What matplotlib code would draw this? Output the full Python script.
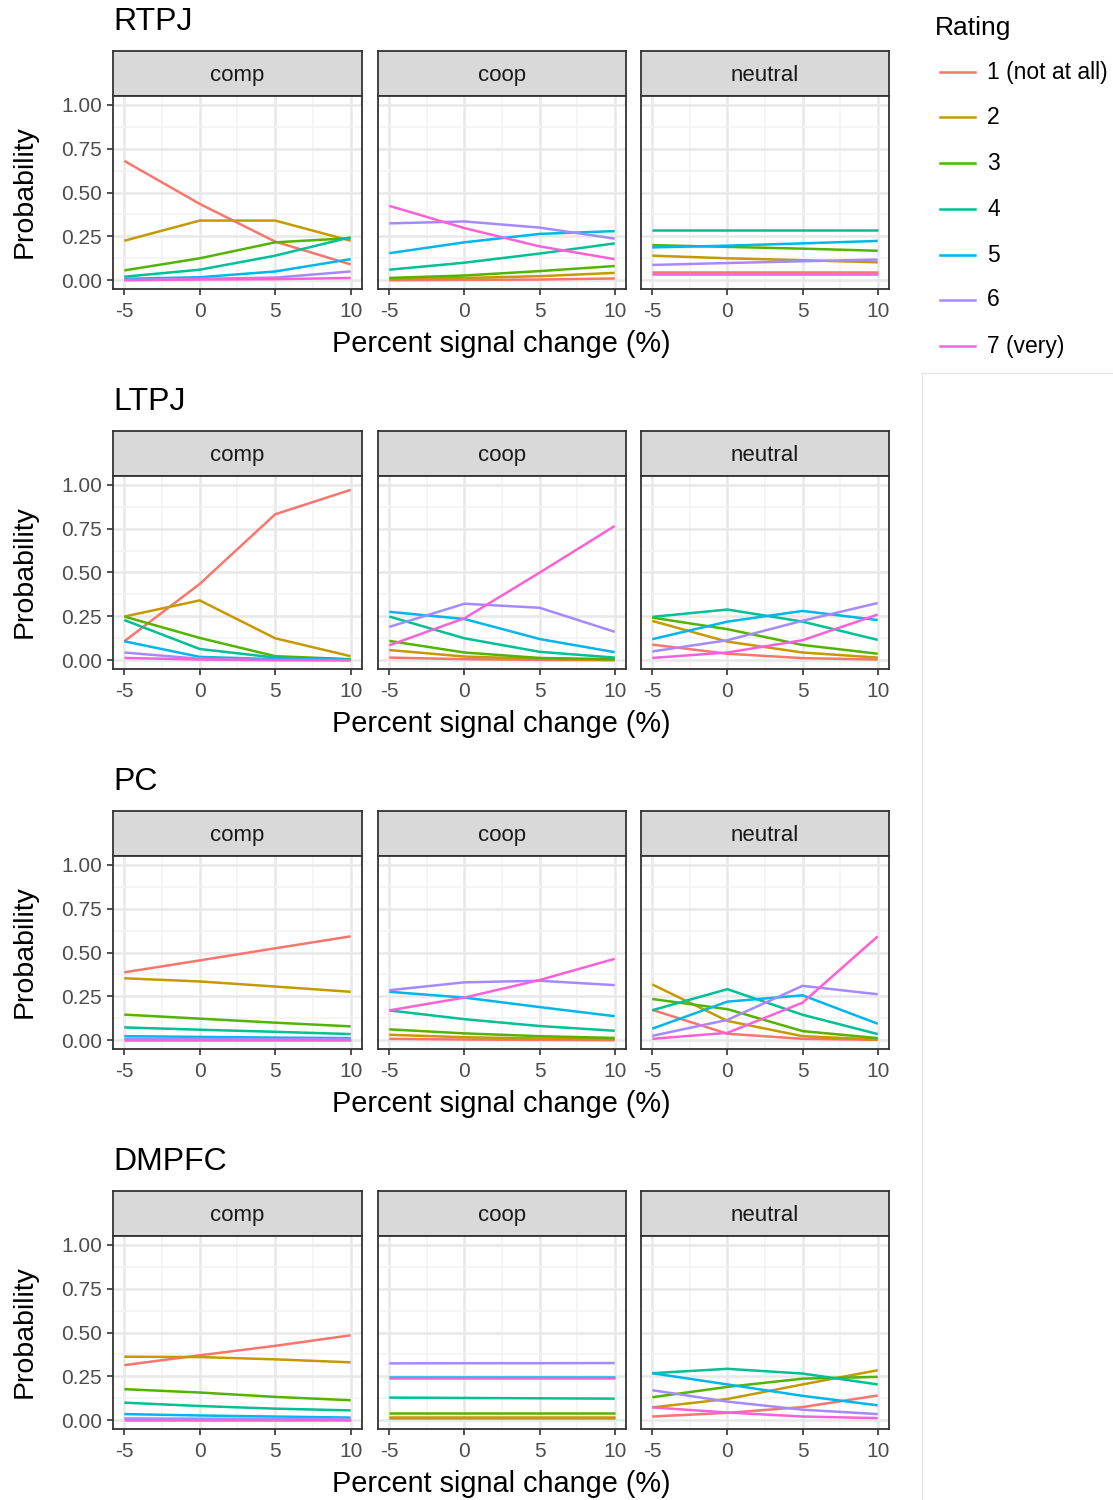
import numpy as np
import matplotlib
matplotlib.use("Agg")
import matplotlib.pyplot as plt
from matplotlib.lines import Line2D

W, H = 1113, 1500

x = [-5, 0, 5, 10]
regions = ["RTPJ", "LTPJ", "PC", "DMPFC"]
conditions = ["comp", "coop", "neutral"]
ratings = ["1 (not at all)", "2", "3", "4", "5", "6", "7 (very)"]
colors = ["#F8766D", "#C49A00", "#53B400", "#00C094", "#00B6EB", "#A58AFF", "#FB61D7"]

# probabilities per region / condition, one row per rating (1..7), columns at x
rtpj_comp = [[0.68, 0.435, 0.22, 0.09],
             [0.225, 0.34, 0.34, 0.225],
             [0.056, 0.125, 0.216, 0.24],
             [0.02, 0.06, 0.14, 0.245],
             [0.008, 0.017, 0.05, 0.12],
             [0.002, 0.008, 0.015, 0.05],
             [0.0, 0.004, 0.006, 0.013]]
rtpj_coop = [[0.0, 0.002, 0.004, 0.01],
             [0.006, 0.013, 0.023, 0.042],
             [0.013, 0.027, 0.052, 0.081],
             [0.06, 0.10, 0.152, 0.21],
             [0.154, 0.216, 0.264, 0.28],
             [0.324, 0.335, 0.30, 0.237],
             [0.424, 0.297, 0.193, 0.12]]
rtpj_neutral = [[0.045, 0.045, 0.045, 0.045],
                [0.14, 0.125, 0.114, 0.102],
                [0.20, 0.19, 0.18, 0.168],
                [0.285, 0.285, 0.285, 0.285],
                [0.187, 0.197, 0.21, 0.224],
                [0.087, 0.098, 0.108, 0.118],
                [0.038, 0.038, 0.038, 0.038]]
ltpj_comp = [[0.108, 0.435, 0.832, 0.971],
             [0.249, 0.341, 0.125, 0.023],
             [0.249, 0.127, 0.023, 0.006],
             [0.229, 0.064, 0.015, 0.004],
             [0.108, 0.019, 0.006, 0.002],
             [0.044, 0.008, 0.002, 0.0],
             [0.013, 0.004, 0.0, 0.0]]
ltpj_coop = [[0.015, 0.006, 0.002, 0.0],
             [0.058, 0.021, 0.008, 0.002],
             [0.11, 0.044, 0.013, 0.006],
             [0.249, 0.125, 0.048, 0.015],
             [0.276, 0.235, 0.121, 0.046],
             [0.19, 0.322, 0.299, 0.162],
             [0.085, 0.239, 0.499, 0.765]]
ltpj_neutral = [[0.089, 0.037, 0.012, 0.004],
                [0.224, 0.106, 0.044, 0.015],
                [0.243, 0.177, 0.087, 0.037],
                [0.247, 0.289, 0.22, 0.116],
                [0.12, 0.22, 0.281, 0.229],
                [0.05, 0.114, 0.225, 0.326],
                [0.013, 0.044, 0.114, 0.26]]
pc_comp = [[0.387, 0.455, 0.524, 0.592],
           [0.353, 0.335, 0.306, 0.276],
           [0.146, 0.123, 0.10, 0.079],
           [0.073, 0.06, 0.048, 0.035],
           [0.023, 0.019, 0.015, 0.012],
           [0.008, 0.007, 0.006, 0.005],
           [0.002, 0.002, 0.002, 0.002]]
pc_coop = [[0.008, 0.004, 0.002, 0.0],
           [0.031, 0.017, 0.01, 0.006],
           [0.062, 0.039, 0.023, 0.013],
           [0.17, 0.12, 0.081, 0.054],
           [0.276, 0.243, 0.189, 0.137],
           [0.285, 0.33, 0.339, 0.314],
           [0.17, 0.243, 0.343, 0.464]]
pc_neutral = [[0.173, 0.037, 0.008, 0.002],
              [0.318, 0.11, 0.023, 0.004],
              [0.235, 0.177, 0.052, 0.012],
              [0.171, 0.291, 0.145, 0.035],
              [0.066, 0.22, 0.256, 0.094],
              [0.025, 0.116, 0.31, 0.262],
              [0.008, 0.042, 0.214, 0.592]]
dmpfc_comp = [[0.314, 0.37, 0.424, 0.484],
              [0.362, 0.36, 0.347, 0.33],
              [0.177, 0.158, 0.133, 0.114],
              [0.10, 0.081, 0.066, 0.056],
              [0.035, 0.027, 0.021, 0.015],
              [0.01, 0.009, 0.008, 0.007],
              [0.004, 0.004, 0.004, 0.004]]
dmpfc_coop = [[0.01, 0.01, 0.01, 0.01],
              [0.02, 0.02, 0.02, 0.02],
              [0.044, 0.044, 0.044, 0.044],
              [0.129, 0.127, 0.125, 0.123],
              [0.247, 0.247, 0.247, 0.247],
              [0.324, 0.325, 0.325, 0.326],
              [0.243, 0.243, 0.243, 0.243]]
dmpfc_neutral = [[0.021, 0.042, 0.075, 0.141],
                 [0.073, 0.121, 0.204, 0.285],
                 [0.131, 0.19, 0.237, 0.247],
                 [0.268, 0.293, 0.266, 0.204],
                 [0.268, 0.204, 0.139, 0.085],
                 [0.171, 0.106, 0.06, 0.035],
                 [0.073, 0.044, 0.021, 0.012]]

data = {
    "RTPJ": [rtpj_comp, rtpj_coop, rtpj_neutral],
    "LTPJ": [ltpj_comp, ltpj_coop, ltpj_neutral],
    "PC": [pc_comp, pc_coop, pc_neutral],
    "DMPFC": [dmpfc_comp, dmpfc_coop, dmpfc_neutral],
}

plt.rcParams["font.family"] = ["Liberation Sans", "DejaVu Sans"]

fig = plt.figure(figsize=(W / 100, H / 100), dpi=100)


def rect(x0, y0, x1, y1):
    # pixel box (top-left origin) -> figure fraction
    return [x0 / W, 1 - y1 / H, (x1 - x0) / W, (y1 - y0) / H]


panel_x = [(113, 362), (378, 626), (641, 889)]
dark = "#333333"

for r, reg in enumerate(regions):
    off = 380 * r
    fig.text(113 / W, 1 - (22 + off) / H, reg, fontsize=23, va="center", ha="left")
    for c, cond in enumerate(conditions):
        x0, x1 = panel_x[c]
        # strip
        sax = fig.add_axes(rect(x0, 51 + off, x1, 96 + off))
        sax.set_facecolor("#D9D9D9")
        sax.set_xticks([])
        sax.set_yticks([])
        for s in sax.spines.values():
            s.set_color(dark)
            s.set_linewidth(1.3)
        sax.text(0.5, 0.45, cond, transform=sax.transAxes, ha="center", va="center",
                 fontsize=16, color="#1A1A1A")

        ax = fig.add_axes(rect(x0, 96 + off, x1, 289 + off))
        vals = data[reg][c]
        for k in range(7):
            ax.plot(x, vals[k], color=colors[k], lw=1.8, solid_capstyle="butt")
        ax.set_xlim(-5.75, 10.75)
        ax.set_ylim(-0.05, 1.05)
        ax.set_xticks(x)
        ax.set_xticks([-2.5, 2.5, 7.5], minor=True)
        ax.set_yticks([0, 0.25, 0.5, 0.75, 1.0])
        ax.set_yticks([0.125, 0.375, 0.625, 0.875], minor=True)
        ax.grid(True, which="major", color="#E8E8E8", lw=1.8)
        ax.grid(True, which="minor", color="#F2F2F2", lw=1.1)
        ax.set_axisbelow(True)
        for s in ax.spines.values():
            s.set_color(dark)
            s.set_linewidth(1.3)
        ax.tick_params(which="major", length=4, width=1.2, color=dark,
                       labelsize=15, labelcolor="#4D4D4D", pad=4)
        ax.tick_params(axis="x", which="major", pad=5.5)
        ax.tick_params(which="minor", length=0)
        ax.set_xticklabels([str(v) for v in x])
        if c == 0:
            ax.set_yticklabels(["0.00", "0.25", "0.50", "0.75", "1.00"])
        else:
            ax.tick_params(axis="y", which="major", length=0, labelleft=False)
    fig.text(501 / W, 1 - (344 + off) / H, "Percent signal change (%)", fontsize=20.8,
             ha="center", va="center")
    fig.text(25 / W, 1 - (192 + off) / H, "Probability", fontsize=20.5, rotation=90,
             ha="center", va="center")

# legend
fig.text(935 / W, 1 - 28 / H, "Rating", fontsize=19, ha="left", va="center")
leg_y = [72, 117, 163, 209, 255, 300, 346]
for k in range(7):
    yy = 1 - leg_y[k] / H
    fig.add_artist(Line2D([940 / W, 975 / W], [yy, yy], color=colors[k], lw=1.8,
                          transform=fig.transFigure))
    fig.text(987 / W, yy, ratings[k], fontsize=16.5, ha="left", va="center")

# faint screenshot divider
fig.add_artist(Line2D([922 / W, 922 / W], [1 - 373 / H, 0], color="#E6E6E6", lw=1,
                      transform=fig.transFigure))
fig.add_artist(Line2D([922 / W, 1], [1 - 373 / H, 1 - 373 / H], color="#E6E6E6", lw=1,
                      transform=fig.transFigure))

fig.savefig("out.png", dpi=100, facecolor="white")
